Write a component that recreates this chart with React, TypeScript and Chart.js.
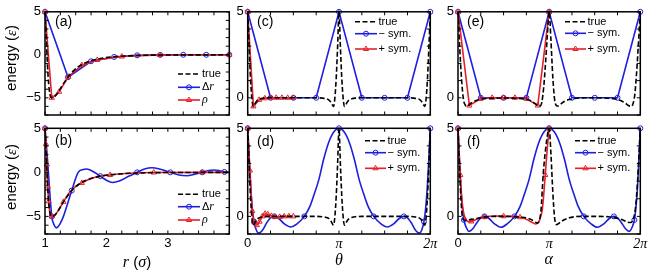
import React, { useEffect, useRef } from "react";
import { Chart, registerables } from "chart.js";

Chart.register(...registerables);

const W = 652;
const H = 277;
const SANS = "'Liberation Sans', Arial, Helvetica, sans-serif";
const SERIF = "'Liberation Serif', 'Times New Roman', serif";
const BLUE = "#1e1ee0";
const RED = "#e4202a";
const INK = "#000000";

// ---------- panels (a), (b): r in units of sigma ----------
const rTrue = [1.0, 1.02, 1.04, 1.06, 1.08, 1.1, 1.12, 1.16, 1.2, 1.25, 1.3, 1.38, 1.45, 1.55, 1.65, 1.75, 1.9, 2.1, 2.3, 2.6, 3.0, 3.5, 4.0];
const eTrue = [5, 2.0, -1.2, -3.4, -4.6, -4.95, -5.0, -4.85, -4.5, -3.95, -3.35, -2.55, -1.95, -1.35, -0.95, -0.7, -0.43, -0.24, -0.14, -0.06, -0.02, -0.01, 0];

const rDeltaA = [1.0, 1.375, 1.75, 2.125, 2.5, 2.875, 3.25, 3.625, 4.0];
const eDeltaA = [5, -2.6, -0.75, -0.25, -0.06, -0.01, 0, 0, 0];
const rRhoA = [1.0, 1.11, 1.23, 1.38, 1.6, 1.85, 2.25, 2.87, 4.0];
const eRhoA = [5, -5.0, -4.3, -2.55, -1.2, -0.6, -0.2, -0.03, 0];

const rDeltaB = [1.0, 1.04, 1.08, 1.11, 1.15, 1.19, 1.24, 1.3, 1.37, 1.435, 1.54, 1.62, 1.68, 1.78, 1.9, 2.0, 2.1, 2.22, 2.36, 2.5, 2.62, 2.74, 2.88, 3.04, 3.18, 3.31, 3.44, 3.56, 3.66, 3.75, 3.84, 3.92, 4.0];
const eDeltaB = [5, 1.5, -2.5, -5.0, -6.0, -6.3, -5.9, -5.0, -3.5, -2.07, 0, 0.32, 0.38, 0.1, -0.43, -0.9, -1.15, -0.95, -0.45, 0, 0.38, 0.52, 0.35, 0, -0.3, -0.38, -0.2, 0, 0.2, 0.26, 0.18, 0.05, 0];
const rDeltaBMarks = [1.0, 1.11, 1.435, 1.9, 2.5, 3.04, 3.56, 3.92];
const eDeltaBMarks = [5, -5.0, -2.07, -0.43, 0, 0, 0, 0.05];
const rRhoB = [1.0, 1.015, 1.03, 1.045, 1.06, 1.08, 1.11, 1.16, 1.22, 1.3, 1.4, 1.5, 1.6, 1.75, 1.9, 2.06, 2.3, 2.77, 3.56, 4.0];
const eRhoB = [5, 3.2, 0.9, -1.6, -3.3, -4.6, -5.0, -4.85, -4.3, -3.35, -2.3, -1.6, -1.2, -0.7, -0.43, -0.3, -0.14, -0.02, 0, 0];
const rRhoBMarks = [1.0, 1.015, 1.03, 1.045, 1.06, 1.11, 1.3, 1.6, 2.06, 2.77, 3.56];
const eRhoBMarks = [5, 3.2, 0.9, -1.6, -3.3, -5.0, -3.35, -1.2, -0.3, -0.02, 0];

// ---------- panels (c)-(f): angle in units of pi ----------
const thTrueCD = [0, 0.015, 0.03, 0.045, 0.06, 0.075, 0.09, 0.11, 0.14, 0.18, 0.25, 0.5, 0.75, 0.82, 0.86, 0.89, 0.91, 0.925, 0.94, 0.955, 0.97, 0.985, 1.0, 1.015, 1.03, 1.045, 1.06, 1.075, 1.09, 1.11, 1.14, 1.18, 1.25, 1.5, 1.75, 1.82, 1.86, 1.89, 1.91, 1.925, 1.94, 1.955, 1.97, 1.985, 2.0];
const eTrueCD = [5, 3.0, 1.2, 0.0, -0.5, -0.4, -0.25, -0.13, -0.06, -0.02, 0, 0, 0, -0.02, -0.06, -0.13, -0.25, -0.4, -0.5, 0.0, 1.2, 3.0, 5, 3.0, 1.2, 0.0, -0.5, -0.4, -0.25, -0.13, -0.06, -0.02, 0, 0, 0, -0.02, -0.06, -0.13, -0.25, -0.4, -0.5, 0.0, 1.2, 3.0, 5];

const thSym = [0, 0.25, 0.5, 0.75, 1.0, 1.25, 1.5, 1.75, 2.0];
const eMinusC = [5, 0, 0, 0, 5, 0, 0, 0, 5];
const thPlusC = [0, 0.0625, 0.125, 0.1875, 0.25, 0.3125, 0.375, 0.4375, 0.5];
const ePlusC = [5, -0.5, -0.12, -0.03, 0, 0, 0, 0, 0];

const thMinusD = [0, 0.015, 0.03, 0.05, 0.07, 0.09, 0.12, 0.16, 0.21, 0.25, 0.29, 0.34, 0.4, 0.47, 0.54, 0.62, 0.68, 0.72, 0.78, 0.83, 0.88, 0.92, 0.96, 1.0, 1.04, 1.08, 1.12, 1.17, 1.22, 1.28, 1.32, 1.38, 1.46, 1.53, 1.6, 1.66, 1.71, 1.75, 1.79, 1.84, 1.88, 1.91, 1.93, 1.95, 1.97, 1.985, 2.0];
const eMinusD = [5, 3.4, 1.9, 0.5, -0.3, -0.72, -0.95, -0.8, -0.35, -0.08, 0, -0.12, -0.42, -0.6, -0.42, 0, 0.55, 1.13, 2.1, 3.2, 4.1, 4.6, 4.9, 5, 4.9, 4.6, 4.1, 3.2, 2.1, 1.13, 0.55, 0, -0.42, -0.6, -0.42, -0.12, 0, -0.08, -0.35, -0.8, -0.95, -0.72, -0.3, 0.5, 1.9, 3.4, 5];
const thMinusDMarks = [0, 0.07, 0.29, 0.62, 1.0, 1.38, 1.71, 1.93, 2.0];
const eMinusDMarks = [5, -0.3, 0, 0, 5, 0, 0, -0.3, 5];
const thPlusD = [0, 0.025, 0.05, 0.075, 0.1, 0.13, 0.16, 0.19, 0.22, 0.26, 0.3, 0.35, 0.4, 0.45, 0.5];
const ePlusD = [5, 2.6, 0.3, -0.35, -0.5, -0.3, 0.0, 0.15, 0.12, 0.03, -0.02, -0.03, 0, 0.01, 0];

const thTrueE = [0, 0.02, 0.04, 0.06, 0.08, 0.1, 0.12, 0.15, 0.2, 0.28, 0.4, 0.5, 0.6, 0.7, 0.76, 0.81, 0.85, 0.88, 0.9, 0.92, 0.94, 0.96, 0.98, 1.0, 1.02, 1.04, 1.06, 1.08, 1.1, 1.13, 1.17, 1.22, 1.3, 1.4, 1.5, 1.6, 1.7, 1.75, 1.8, 1.84, 1.87, 1.9, 1.92, 1.94, 1.96, 1.98, 2.0];
const eTrueE = [5, 2.8, 1.0, -0.1, -0.42, -0.5, -0.42, -0.28, -0.15, -0.06, -0.02, -0.01, -0.02, -0.05, -0.1, -0.2, -0.35, -0.47, -0.48, -0.25, 0.6, 2.0, 3.6, 5, 3.3, 1.2, -0.1, -0.45, -0.48, -0.35, -0.2, -0.1, -0.03, 0, 0, -0.01, -0.05, -0.1, -0.2, -0.33, -0.45, -0.5, -0.35, 0.2, 1.5, 3.2, 5];
const eMinusE = [5, 0, 0, 0, 5, 0, 0, 0, 5];
const thPlusE = [0, 0.125, 0.25, 0.375, 0.5, 0.625, 0.75, 0.875, 1.0];
const ePlusE = [5, -0.45, -0.05, 0, 0, 0, -0.05, -0.45, 5];

const thTrueF = [0, 0.015, 0.03, 0.045, 0.06, 0.08, 0.11, 0.15, 0.2, 0.25, 0.3, 0.35, 0.45, 0.6, 0.7, 0.76, 0.8, 0.84, 0.87, 0.89, 0.91, 0.935, 0.97, 1.0, 1.02, 1.04, 1.06, 1.08, 1.1, 1.13, 1.17, 1.22, 1.28, 1.35, 1.5, 1.65, 1.72, 1.78, 1.82, 1.86, 1.89, 1.92, 1.95, 1.97, 1.985, 2.0];
const eTrueF = [5, 3.0, 1.2, 0.1, -0.2, -0.22, -0.2, -0.17, -0.12, -0.07, -0.03, -0.01, 0, -0.01, -0.05, -0.1, -0.17, -0.3, -0.38, -0.25, 0.3, 2.4, 4.2, 5, 3.5, 1.4, -0.1, -0.47, -0.42, -0.3, -0.18, -0.08, -0.02, 0, 0, -0.02, -0.07, -0.15, -0.23, -0.33, -0.35, -0.2, 0.6, 2.0, 3.4, 5];
const thMinusF = [0, 0.015, 0.03, 0.048, 0.065, 0.09, 0.12, 0.16, 0.21, 0.25, 0.29, 0.34, 0.4, 0.47, 0.54, 0.62, 0.68, 0.72, 0.78, 0.83, 0.88, 0.92, 0.96, 1.0, 1.04, 1.08, 1.12, 1.17, 1.22, 1.28, 1.32, 1.38, 1.46, 1.53, 1.6, 1.66, 1.71, 1.75, 1.79, 1.84, 1.88, 1.91, 1.935, 1.952, 1.97, 1.985, 2.0];
const eMinusF = [5, 3.3, 1.7, 0.5, -0.2, -0.62, -0.85, -0.72, -0.33, -0.08, 0, -0.12, -0.42, -0.62, -0.42, 0, 0.55, 1.13, 2.1, 3.2, 4.1, 4.6, 4.9, 5, 4.9, 4.6, 4.1, 3.2, 2.1, 1.13, 0.55, 0, -0.42, -0.62, -0.42, -0.12, 0, -0.08, -0.33, -0.72, -0.85, -0.62, -0.2, 0.5, 1.7, 3.3, 5];
const thMinusFMarks = [0, 0.065, 0.29, 0.62, 1.0, 1.38, 1.71, 1.935, 2.0];
const eMinusFMarks = [5, -0.2, 0, 0, 5, 0, 0, -0.2, 5];
const thPlusF = [0, 0.025, 0.05, 0.08, 0.12, 0.16, 0.21, 0.29, 0.4, 0.5, 0.6, 0.68, 0.75, 0.81, 0.855, 0.885, 0.905, 0.925, 0.94, 0.957, 0.98, 1.0];
const ePlusF = [5, 2.35, 0.6, -0.12, -0.3, -0.27, -0.15, -0.04, 0.02, 0.01, 0.0, -0.05, -0.17, -0.33, -0.43, -0.33, -0.05, 0.4, 1.2, 2.35, 3.9, 5];
const thPlusFMarks = [0, 0.025, 0.145, 0.29, 0.5, 0.68, 0.957, 1.0];
const ePlusFMarks = [5, 2.35, -0.29, -0.04, 0.01, -0.05, 2.35, 5];

// ---------- helpers ----------
const pts = (xs: number[], ys: number[]) => xs.map((x, i) => ({ x, y: ys[i] }));

type Run = { t: string; f: string };
const sans = (t: string, s: number): Run => ({ t, f: `${s}px ${SANS}` });
const math = (t: string, s: number): Run => ({ t, f: `italic ${s}px ${SERIF}` });

function drawRuns(ctx: CanvasRenderingContext2D, runs: Run[], x: number, y: number, align: "left" | "center") {
  let total = 0;
  const ws = runs.map((r) => {
    ctx.font = r.f;
    const w = ctx.measureText(r.t).width;
    total += w;
    return w;
  });
  let cx = align === "center" ? x - total / 2 : x;
  ctx.textAlign = "left";
  ctx.textBaseline = "middle";
  runs.forEach((r, i) => {
    ctx.font = r.f;
    ctx.fillText(r.t, cx, y);
    cx += ws[i];
  });
}

function drawMarker(ctx: CanvasRenderingContext2D, kind: string, x: number, y: number, color: string) {
  ctx.beginPath();
  if (kind === "circle") {
    ctx.arc(x, y, 2.5, 0, Math.PI * 2);
  } else {
    const r = 3;
    let a = 0;
    ctx.moveTo(x + Math.sin(a) * r, y - Math.cos(a) * r);
    a += (2 * Math.PI) / 3;
    ctx.lineTo(x + Math.sin(a) * r, y - Math.cos(a) * r);
    a += (2 * Math.PI) / 3;
    ctx.lineTo(x + Math.sin(a) * r, y - Math.cos(a) * r);
    ctx.closePath();
  }
  ctx.lineWidth = 1;
  ctx.strokeStyle = color;
  ctx.setLineDash([]);
  ctx.stroke();
}

const LW = 1.6;
const trueLine = (xs: number[], ys: number[]) => ({
  data: pts(xs, ys), showLine: true, borderColor: INK, borderWidth: LW, borderDash: [5, 2.5],
  pointRadius: 0, cubicInterpolationMode: "monotone", fill: false,
});
const smoothLine = (xs: number[], ys: number[], color: string, marker?: string) => ({
  data: pts(xs, ys), showLine: true, borderColor: color, borderWidth: LW,
  pointRadius: marker ? (marker === "circle" ? 2.5 : 3) : 0, pointStyle: marker || "circle",
  pointBorderColor: color, pointBackgroundColor: "rgba(0,0,0,0)", pointBorderWidth: 1,
  cubicInterpolationMode: "monotone", fill: false, clip: false,
});
const brokenLine = (xs: number[], ys: number[], color: string, marker: string) => ({
  data: pts(xs, ys), showLine: true, borderColor: color, borderWidth: LW, tension: 0,
  pointRadius: marker === "circle" ? 2.5 : 3, pointStyle: marker,
  pointBorderColor: color, pointBackgroundColor: "rgba(0,0,0,0)", pointBorderWidth: 1,
  fill: false, clip: false,
});
const markers = (xs: number[], ys: number[], color: string, marker: string) => ({
  data: pts(xs, ys), showLine: false,
  pointRadius: marker === "circle" ? 2.5 : 3, pointStyle: marker,
  pointBorderColor: color, pointBackgroundColor: "rgba(0,0,0,0)", pointBorderWidth: 1, clip: false,
});

type Entry = { color: string; dash?: boolean; marker?: string; runs: Run[] };
type Spec = {
  id: string;
  area: { l: number; t: number; r: number; b: number };
  kind: "r" | "angle";
  xLabels: boolean;
  yMin: number;
  datasets: any[];
  tag: string; tagX: number; tagY: number;
  legend: { x1: number; x2: number; tx: number; ys: number[]; entries: Entry[] };
  xTitle?: { runs: Run[]; x: number; y: number };
  yTitle?: { runs: Run[]; x: number; y: number };
};

const LEG = 11;
const rEntries: Entry[] = [
  { color: INK, dash: true, runs: [sans("true", LEG)] },
  { color: BLUE, marker: "circle", runs: [sans("Δ", LEG), math("r", 12)] },
  { color: RED, marker: "triangle", runs: [math("ρ", 12)] },
];
const aEntries: Entry[] = [
  { color: INK, dash: true, runs: [sans("true", LEG)] },
  { color: BLUE, marker: "circle", runs: [sans("− sym.", LEG)] },
  { color: RED, marker: "triangle", runs: [sans("+ sym.", LEG)] },
];
const yTitleRuns = [sans("energy (", 15), math("ε", 15), sans(")", 15)];

const specs: Spec[] = [
  {
    id: "a", area: { l: 45, t: 9.3, r: 229.3, b: 115 }, kind: "r", xLabels: false, yMin: -7,
    datasets: [trueLine(rTrue, eTrue), brokenLine(rRhoA, eRhoA, RED, "triangle"), brokenLine(rDeltaA, eDeltaA, BLUE, "circle")],
    tag: "(a)", tagX: 55, tagY: 22.5,
    legend: { x1: 178, x2: 200, tx: 202, ys: [74, 87.3, 100], entries: rEntries },
    yTitle: { runs: yTitleRuns, x: 12, y: 58 },
  },
  {
    id: "b", area: { l: 45, t: 128.3, r: 229.3, b: 234 }, kind: "r", xLabels: true, yMin: -7,
    datasets: [trueLine(rTrue, eTrue), smoothLine(rRhoB, eRhoB, RED), markers(rRhoBMarks, eRhoBMarks, RED, "triangle"), smoothLine(rDeltaB, eDeltaB, BLUE), markers(rDeltaBMarks, eDeltaBMarks, BLUE, "circle")],
    tag: "(b)", tagX: 55, tagY: 141.5,
    legend: { x1: 178, x2: 200, tx: 202, ys: [194.3, 206.7, 220], entries: rEntries },
    yTitle: { runs: yTitleRuns, x: 12, y: 177 },
    xTitle: { runs: [math("r", 16), sans(" (", 15), math("σ", 16), sans(")", 15)], x: 137, y: 262.5 },
  },
  {
    id: "c", area: { l: 247.7, t: 9.3, r: 430.3, b: 115 }, kind: "angle", xLabels: false, yMin: -1,
    datasets: [trueLine(thTrueCD, eTrueCD), brokenLine(thPlusC, ePlusC, RED, "triangle"), brokenLine(thSym, eMinusC, BLUE, "circle")],
    tag: "(c)", tagX: 257, tagY: 21.7,
    legend: { x1: 355, x2: 377, tx: 378.5, ys: [21.7, 33.7, 49], entries: aEntries },
  },
  {
    id: "d", area: { l: 247.7, t: 128.3, r: 430.3, b: 234 }, kind: "angle", xLabels: true, yMin: -1,
    datasets: [trueLine(thTrueCD, eTrueCD), smoothLine(thPlusD, ePlusD, RED, "triangle"), smoothLine(thMinusD, eMinusD, BLUE), markers(thMinusDMarks, eMinusDMarks, BLUE, "circle")],
    tag: "(d)", tagX: 257, tagY: 142.3,
    legend: { x1: 365, x2: 386, tx: 387.5, ys: [140.7, 152.7, 168.3], entries: aEntries },
    xTitle: { runs: [math("θ", 16)], x: 339, y: 261 },
  },
  {
    id: "e", area: { l: 458, t: 9.3, r: 640.3, b: 115 }, kind: "angle", xLabels: false, yMin: -1,
    datasets: [trueLine(thTrueE, eTrueE), brokenLine(thPlusE, ePlusE, RED, "triangle"), brokenLine(thSym, eMinusE, BLUE, "circle")],
    tag: "(e)", tagX: 467, tagY: 22.5,
    legend: { x1: 565, x2: 586, tx: 587.5, ys: [21.7, 33.3, 49], entries: aEntries },
  },
  {
    id: "f", area: { l: 458, t: 128.3, r: 640.3, b: 234 }, kind: "angle", xLabels: true, yMin: -1,
    datasets: [trueLine(thTrueF, eTrueF), smoothLine(thPlusF, ePlusF, RED), markers(thPlusFMarks, ePlusFMarks, RED, "triangle"), smoothLine(thMinusF, eMinusF, BLUE), markers(thMinusFMarks, eMinusFMarks, BLUE, "circle")],
    tag: "(f)", tagX: 467, tagY: 142,
    legend: { x1: 575, x2: 596, tx: 597.5, ys: [140.7, 152.7, 168.3], entries: aEntries },
    xTitle: { runs: [math("α", 16)], x: 548.7, y: 260 },
  },
];

const Y_W = 30;
const X_H = 22;

function overlay(spec: Spec) {
  return {
    id: "overlay_" + spec.id,
    afterDraw(chart: any) {
      const ctx: CanvasRenderingContext2D = chart.ctx;
      const a = chart.chartArea;
      const xs = chart.scales.x;
      const ys = chart.scales.y;
      ctx.save();
      const TL = 3.5;
      ctx.strokeStyle = INK;
      ctx.lineWidth = 1;
      ctx.setLineDash([]);
      ctx.beginPath();
      xs.ticks.forEach((t: any) => {
        const p = xs.getPixelForValue(t.value);
        ctx.moveTo(p, a.bottom); ctx.lineTo(p, a.bottom - TL);
        ctx.moveTo(p, a.top); ctx.lineTo(p, a.top + TL);
      });
      ys.ticks.forEach((t: any) => {
        const p = ys.getPixelForValue(t.value);
        ctx.moveTo(a.left, p); ctx.lineTo(a.left + TL, p);
        ctx.moveTo(a.right, p); ctx.lineTo(a.right - TL, p);
      });
      ctx.stroke();
      ctx.lineWidth = 1.5;
      ctx.strokeRect(a.left, a.top, a.right - a.left, a.bottom - a.top);

      ctx.fillStyle = INK;
      drawRuns(ctx, [sans(spec.tag, 14)], spec.tagX, spec.tagY, "left");

      const L = spec.legend;
      L.entries.forEach((e, i) => {
        const y = L.ys[i];
        ctx.beginPath();
        ctx.lineWidth = LW;
        ctx.strokeStyle = e.color;
        ctx.setLineDash(e.dash ? [5, 2.5] : []);
        ctx.moveTo(L.x1, y);
        ctx.lineTo(L.x2, y);
        ctx.stroke();
        ctx.setLineDash([]);
        if (e.marker) drawMarker(ctx, e.marker, (L.x1 + L.x2) / 2, y, e.color);
        ctx.fillStyle = INK;
        drawRuns(ctx, e.runs, L.tx, y, "left");
      });

      if (spec.xTitle) {
        ctx.fillStyle = INK;
        drawRuns(ctx, spec.xTitle.runs, spec.xTitle.x, spec.xTitle.y, "center");
      }
      if (spec.yTitle) {
        ctx.save();
        ctx.translate(spec.yTitle.x, spec.yTitle.y);
        ctx.rotate(-Math.PI / 2);
        ctx.fillStyle = INK;
        drawRuns(ctx, spec.yTitle.runs, 0, 0, "center");
        ctx.restore();
      }
      ctx.restore();
    },
  };
}

function makeChart(canvas: HTMLCanvasElement, spec: Spec) {
  const xh = spec.xLabels ? X_H : 0;
  const isR = spec.kind === "r";
  const xLabel = (v: number) => {
    if (isR) {
      return Math.abs(v - Math.round(v)) < 1e-9 && v < 3.5 ? String(Math.round(v)) : "";
    }
    if (Math.abs(v) < 1e-9) return "0";
    if (Math.abs(v - 1) < 1e-9) return "π";
    if (Math.abs(v - 2) < 1e-9) return "2π";
    return "";
  };
  const yLabel = (v: number) => {
    if (Math.abs(v - 5) < 1e-9) return "5";
    if (Math.abs(v) < 1e-9) return "0";
    if (Math.abs(v + 5) < 1e-9) return "−5";
    return "";
  };
  return new Chart(canvas, {
    type: "scatter",
    data: { datasets: spec.datasets },
    options: {
      responsive: false,
      animation: false,
      devicePixelRatio: 1,
      events: [],
      layout: {
        padding: {
          left: spec.area.l - Y_W,
          top: spec.area.t,
          right: W - spec.area.r,
          bottom: H - spec.area.b - xh,
        },
      },
      plugins: { legend: { display: false }, tooltip: { enabled: false } },
      scales: {
        x: {
          type: "linear",
          min: isR ? 1 : 0,
          max: isR ? 4 : 2,
          grid: { display: false, drawTicks: false },
          border: { display: false },
          ticks: {
            display: spec.xLabels,
            stepSize: 0.25,
            autoSkip: false,
            maxRotation: 0,
            minRotation: 0,
            padding: 2,
            color: INK,
            font: (c: any) => {
              const v = c && c.tick ? c.tick.value : 0;
              if (!isR && v > 0.5) return { family: SERIF, size: 14, style: "italic" };
              return { family: SANS, size: 13 };
            },
            callback: (v: any) => xLabel(Number(v)),
          },
          afterFit: (s: any) => { s.height = xh; },
        },
        y: {
          type: "linear",
          min: spec.yMin,
          max: 5,
          grid: { display: false, drawTicks: false },
          border: { display: false },
          ticks: {
            stepSize: 1,
            autoSkip: false,
            padding: 4,
            color: INK,
            font: { family: SANS, size: 13 },
            callback: (v: any) => yLabel(Number(v)),
          },
          afterFit: (s: any) => { s.width = Y_W; },
        },
      },
    } as any,
    plugins: [overlay(spec)],
  } as any);
}

export default function App() {
  const refs = useRef<(HTMLCanvasElement | null)[]>([]);
  useEffect(() => {
    const charts = specs.map((s, i) => makeChart(refs.current[i] as HTMLCanvasElement, s));
    return () => charts.forEach((c) => c.destroy());
  }, []);
  return (
    <div style={{ position: "fixed", left: 0, top: 0, width: W, height: H, background: "#ffffff", overflow: "hidden" }}>
      {specs.map((s, i) => (
        <canvas
          key={s.id}
          ref={(el) => { refs.current[i] = el; }}
          width={W}
          height={H}
          style={{ position: "absolute", left: 0, top: 0, width: W, height: H }}
        />
      ))}
    </div>
  );
}
